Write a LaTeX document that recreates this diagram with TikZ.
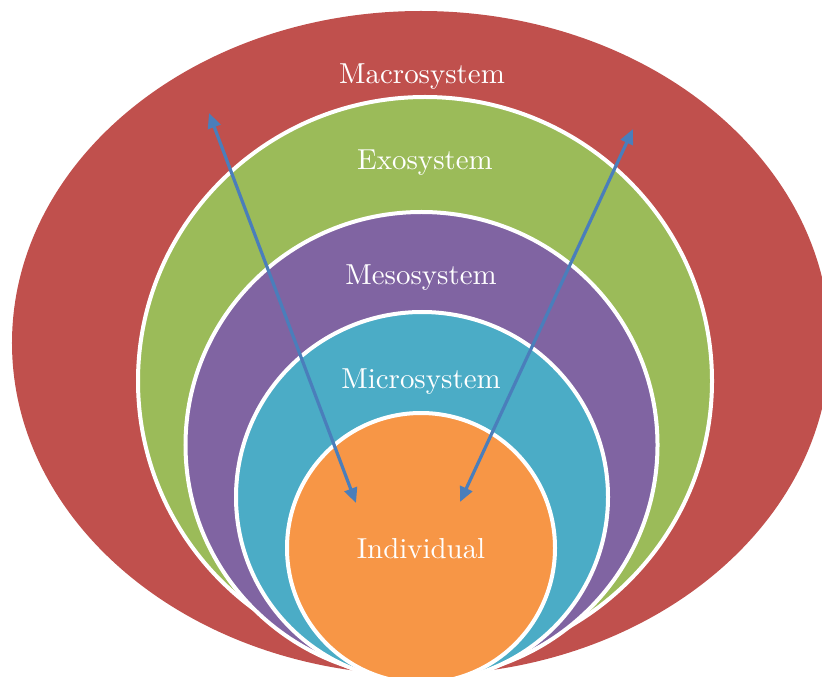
\documentclass[tikz,border=0pt]{standalone}
\usepackage{fontspec}
\setmainfont{lmroman10-regular.otf}
\usetikzlibrary{arrows.meta,shapes.geometric}
\definecolor{macroc}{HTML}{C0504D}
\definecolor{exoc}{HTML}{9BBB59}
\definecolor{mesoc}{HTML}{8064A2}
\definecolor{microc}{HTML}{4BACC6}
\definecolor{indc}{HTML}{F79646}
\definecolor{arrowc}{HTML}{4A7EBB}
\begin{document}
\begin{tikzpicture}[x=1bp,y=-1bp,
  ring/.style={ellipse,inner sep=0pt,outer sep=0pt,draw=white,line width=4bp},
  lbl/.style={text=white,font=\fontsize{29}{34}\selectfont,anchor=base,inner sep=0pt},
  conn/.style={draw=arrowc,line width=3.2bp,{Triangle[length=15bp,width=13bp]}-{Triangle[length=15bp,width=13bp]}}]
\useasboundingbox (0,0) rectangle (822,677);
\clip (0,0) rectangle (822,677);
\node[ring,draw=none,fill=macroc,minimum width=818bp,minimum height=664bp] (macro) at (421,343) {};
\node[ring,fill=exoc,minimum width=574bp,minimum height=568bp] (exo) at (425,381) {};
\node[ring,fill=mesoc,minimum width=472bp,minimum height=466bp] (meso) at (421.5,445) {};
\node[ring,fill=microc,minimum width=372bp,minimum height=370bp] (micro) at (422,497) {};
\node[ring,fill=indc,minimum width=268bp,minimum height=270bp] (ind) at (421,548) {};
\node[lbl] (tmacro) at (422,84) {Macrosystem};
\node[lbl] (texo) at (425,169) {Exosystem};
\node[lbl] (tmeso) at (421,284) {Mesosystem};
\node[lbl] (tmicro) at (421,388) {Microsystem};
\node[lbl] (tind) at (421,558) {Individual};
\coordinate (la) at (209,113);
\coordinate (lb) at (356,503);
\coordinate (ra) at (633,129);
\coordinate (rb) at (460,502);
\draw[conn] (la) -- (lb);
\draw[conn] (ra) -- (rb);
\end{tikzpicture}
\end{document}
